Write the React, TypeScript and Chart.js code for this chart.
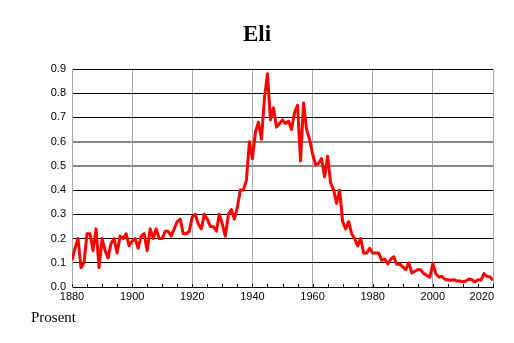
import React, { useEffect, useRef } from "react";
import { Chart, registerables } from "chart.js";

Chart.register(...registerables);

const TITLE = "Eli";
const UNIT_LABEL = "Prosent";
const START_YEAR = 1880;
const X_MIN = 1880;
const X_MAX = 2020;
const X_LABEL_STEP = 20;
const X_MINOR_STEP = 5;
const Y_MIN = 0;
const Y_MAX = 0.9;
const Y_STEP = 0.1;

// share (percent) per year, 1880..2020
const values: number[] = [
  0.11, 0.16, 0.2, 0.08, 0.1, 0.22, 0.22, 0.15, 0.24, 0.08,
  0.2, 0.15, 0.12, 0.18, 0.2, 0.14, 0.21, 0.2, 0.22, 0.17,
  0.19, 0.2, 0.16, 0.21, 0.22, 0.15, 0.24, 0.2, 0.24, 0.2,
  0.2, 0.23, 0.23, 0.21, 0.24, 0.27, 0.28, 0.22, 0.22, 0.23,
  0.29, 0.3, 0.26, 0.24, 0.3, 0.28, 0.25, 0.25, 0.23, 0.3,
  0.26, 0.21, 0.3, 0.32, 0.28, 0.33, 0.4, 0.4, 0.44, 0.6,
  0.53, 0.64, 0.68, 0.61, 0.78, 0.88, 0.69, 0.74, 0.66, 0.675,
  0.69, 0.675, 0.685, 0.65, 0.72, 0.75, 0.52, 0.76, 0.65, 0.61,
  0.55, 0.505, 0.51, 0.53, 0.455, 0.54, 0.43, 0.4, 0.345, 0.4,
  0.27, 0.24, 0.27, 0.22, 0.2, 0.17, 0.2, 0.14, 0.14, 0.16,
  0.14, 0.14, 0.14, 0.11, 0.115, 0.095, 0.115, 0.125, 0.094, 0.094,
  0.083, 0.072, 0.1, 0.058, 0.065, 0.072, 0.07, 0.055, 0.048, 0.041,
  0.097, 0.055, 0.041, 0.044, 0.032, 0.03, 0.028, 0.03, 0.025, 0.025,
  0.022, 0.025, 0.033, 0.03, 0.022, 0.03, 0.028, 0.055, 0.044, 0.041,
  0.028,
];

const years: number[] = values.map((_, i) => START_YEAR + i);

const TICK_FONT = { family: "Liberation Sans", size: 11 };

const decorPlugin = {
  id: "decor",
  afterDraw(chart: any) {
    const { ctx, chartArea, scales } = chart;
    const xs = scales.x;
    ctx.save();
    ctx.strokeStyle = "#000";
    ctx.lineWidth = 1;
    xs.ticks.forEach((t: any) => {
      const px = Math.round(xs.getPixelForValue(t.value)) + 0.5;
      ctx.beginPath();
      ctx.moveTo(px, chartArea.bottom);
      ctx.lineTo(px, chartArea.bottom - 3);
      ctx.stroke();
    });
    ctx.fillStyle = "#000";
    // last x label kept inside the plot's right edge
    ctx.font = `${TICK_FONT.size}px "${TICK_FONT.family}"`;
    ctx.textAlign = "right";
    ctx.textBaseline = "middle";
    ctx.fillText(String(X_MAX), chartArea.right + 1, xs.top + 3 + (TICK_FONT.size * 1.2) / 2);

    ctx.font = 'bold 23px "Liberation Serif"';
    ctx.textAlign = "center";
    ctx.textBaseline = "alphabetic";
    ctx.fillText(TITLE, chart.width / 2, 41);
    ctx.font = '15px "Liberation Serif"';
    ctx.textAlign = "left";
    ctx.fillText(UNIT_LABEL, 31, 322);
    ctx.restore();
  },
};

export default function App() {
  const ref = useRef<HTMLCanvasElement>(null);
  useEffect(() => {
    if (!ref.current) return;
    const chart = new Chart(ref.current, {
      type: "line",
      data: {
        datasets: [
          {
            data: years.map((y, i) => ({ x: y, y: values[i] })),
            borderColor: "#ff0000",
            borderWidth: 3,
            borderJoinStyle: "round",
            pointRadius: 0,
            tension: 0,
            fill: false,
          },
        ],
      },
      options: {
        animation: false,
        responsive: false,
        maintainAspectRatio: false,
        layout: { padding: { top: 69, right: 21, bottom: 0, left: 0 } },
        plugins: {
          legend: { display: false },
          title: { display: false },
          tooltip: { enabled: false },
        },
        scales: {
          x: {
            type: "linear",
            min: X_MIN,
            max: X_MAX,
            afterFit: (s: any) => {
              s.height = 56;
            },
            ticks: {
              stepSize: X_MINOR_STEP,
              autoSkip: false,
              maxRotation: 0,
              padding: 3,
              color: "#000",
              font: TICK_FONT,
              callback: (v: any) =>
                Number(v) % X_LABEL_STEP === 0 && Number(v) !== X_MAX ? String(v) : "",
            },
            grid: {
              drawTicks: false,
              color: (c: any) =>
                c.tick && Number(c.tick.value) % X_LABEL_STEP === 0 ? "#a8a8a8" : "rgba(0,0,0,0)",
              lineWidth: 1,
            },
            border: { color: "#000", width: 1 },
          },
          y: {
            min: Y_MIN,
            max: Y_MAX,
            afterFit: (s: any) => {
              s.width = 72;
            },
            ticks: {
              stepSize: Y_STEP,
              padding: 6,
              color: "#000",
              font: TICK_FONT,
              callback: (v: any) => Number(v).toFixed(1),
            },
            grid: {
              drawTicks: false,
              color: (c: any) => {
                const v = c.tick ? Number(c.tick.value) : 0;
                return Math.abs(v - 0.5) < 1e-6 || Math.abs(v - 0.6) < 1e-6 ? "#888" : "#000";
              },
              lineWidth: (c: any) => {
                const v = c.tick ? Number(c.tick.value) : 0;
                return Math.abs(v - 0.5) < 1e-6 || Math.abs(v - 0.6) < 1e-6 ? 2 : 1;
              },
            },
            border: { color: "#a8a8a8", width: 1 },
          },
        },
      },
      plugins: [decorPlugin],
    });
    return () => chart.destroy();
  }, []);
  return (
    <div style={{ position: "absolute", left: 0, top: 0, width: 514, height: 343, background: "#fff" }}>
      <canvas ref={ref} width={514} height={343} />
    </div>
  );
}
